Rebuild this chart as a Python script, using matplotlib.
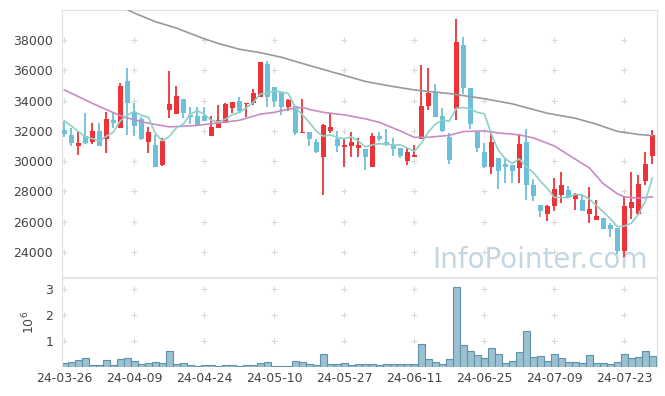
import numpy as np
import pandas as pd
import matplotlib
matplotlib.use('Agg')
import matplotlib.pyplot as plt

# ── data ──────────────────────────────────────────────────────────────────
tick_labels = ['24-03-26', '24-04-09', '24-04-24', '24-05-10', '24-05-27',
               '24-06-11', '24-06-25', '24-07-09', '24-07-23']

opens = [32060, 31730, 31020, 31660, 31250, 31990, 31450, 32720, 32210, 35290,
         33270, 32770, 31290, 31070, 29750, 33380, 33100, 34090, 33050, 32980,
         33000, 31680, 32210, 32540, 33530, 33990, 33760, 33820, 34220, 36420,
         34880, 34590, 33560, 33640, 31840, 31910, 31250, 30260, 32010, 31470,
         30960, 31020, 30850, 30810, 29610, 31660, 31290, 31070, 30890, 30030,
         30270, 31450, 33660, 34590, 32980, 31580, 33430, 37670, 34810, 31950,
         30630, 29610, 30190, 29820, 29750, 29570, 31230, 28430, 27110, 26520,
         27000, 27770, 28100, 27490, 27440, 26520, 26120, 26230, 25790, 25570,
         24060, 26930, 26500, 28710, 30360]
highs = [32650, 32170, 31950, 33160, 32500, 32500, 33270, 33270, 35140, 36130,
         33860, 32940, 32280, 31730, 31510, 35950, 34960, 34090, 33560, 33560,
         33560, 33000, 33710, 33820, 33930, 34260, 33860, 34750, 36530, 36630,
         34880, 34590, 34090, 33640, 34090, 31950, 31450, 32460, 33120, 31990,
         31510, 31910, 31510, 30810, 31880, 31950, 32130, 31510, 30890, 30850,
         31070, 36350, 36130, 35080, 33490, 31880, 39390, 38180, 34810, 31950,
         31180, 32010, 30190, 30130, 29750, 31820, 32110, 28810, 27110, 27110,
         28910, 29310, 28360, 27860, 27840, 28280, 27440, 26230, 25900, 25570,
         27620, 29290, 29090, 30630, 32060]
lows = [31580, 31020, 30390, 31120, 31120, 31020, 30520, 32170, 32210, 31730,
        31680, 31380, 30520, 29610, 29700, 32830, 33100, 32830, 32450, 32320,
        32630, 31680, 32210, 32500, 33200, 33160, 32900, 33710, 34220, 33600,
        33600, 33050, 33310, 31730, 31840, 31020, 30560, 27770, 31840, 30630,
        29610, 30260, 30260, 29440, 29610, 31330, 31020, 30330, 30200, 29750,
        30270, 31450, 33380, 32940, 31950, 29790, 32700, 34420, 32130, 30630,
        29570, 29170, 28150, 28580, 28580, 28580, 27440, 27390, 26300, 26050,
        26710, 27220, 27620, 26780, 26730, 25910, 26120, 25530, 24990, 23890,
        23670, 26200, 26450, 28430, 29820]
closes = [31815, 31220, 31200, 31220, 31990, 31020, 32770, 32540, 34960, 33820,
          32340, 31450, 31930, 29610, 31330, 33780, 34300, 33200, 32920, 32390,
          32670, 32240, 32720, 33780, 33930, 33310, 33860, 34520, 36530, 34220,
          33990, 33560, 34040, 31840, 31910, 31450, 30630, 32390, 32280, 31020,
          31070, 31250, 31070, 30300, 31660, 31470, 31070, 30810, 30340, 30630,
          30410, 33660, 34520, 32940, 31990, 30100, 37850, 34810, 32440, 30890,
          29610, 31230, 29370, 29640, 29350, 31160, 28430, 27660, 26730, 27000,
          28150, 28430, 27620, 27820, 26730, 26830, 26340, 25530, 25530, 24060,
          27060, 27270, 28500, 29820, 31730]
volume = [0.14, 0.18, 0.26, 0.33, 0.08, 0.08, 0.26, 0.08, 0.29, 0.33,
          0.22, 0.10, 0.14, 0.18, 0.14, 0.60, 0.10, 0.14, 0.08, 0.04,
          0.06, 0.06, 0.04, 0.06, 0.06, 0.04, 0.06, 0.06, 0.14, 0.18,
          0.03, 0.03, 0.03, 0.22, 0.18, 0.10, 0.06, 0.49, 0.10, 0.10,
          0.14, 0.06, 0.10, 0.10, 0.10, 0.06, 0.10, 0.10, 0.10, 0.10,
          0.10, 0.87, 0.29, 0.18, 0.10, 0.29, 3.10, 0.83, 0.60, 0.45,
          0.33, 0.72, 0.49, 0.14, 0.22, 0.56, 1.37, 0.37, 0.41, 0.22,
          0.49, 0.33, 0.18, 0.18, 0.14, 0.45, 0.14, 0.14, 0.10, 0.18,
          0.49, 0.33, 0.37, 0.60, 0.41]  # x 10^6

# 5-day MA: first points come from days before the window
ma5_head = [32650, 32320, 31950, 31620]

# 20-day MA, read at selected days
ma20_idx = [0, 2, 5, 8, 10, 12, 15, 18, 20, 25, 28, 30, 32, 34, 35, 37, 40, 43,
            45, 48, 50, 52, 55, 57, 60, 62, 65, 67, 70, 72, 75, 77, 79, 80, 82, 84]
ma20_val = [34700, 34260, 33600, 33000, 32720, 32500, 32260, 32320, 32410, 32690,
            33100, 33220, 33430, 33550, 33410, 33220, 33050, 32790, 32560, 31990,
            31570, 31570, 31700, 31950, 31990, 31860, 31730, 31530, 31000, 30410,
            29550, 28500, 27840, 27640, 27540, 27640]

# long MA (grey), read at selected days
ma_long_idx = [8, 10, 13, 16, 18, 20, 22, 25, 28, 31, 34, 37, 40, 43, 46, 50, 55,
               60, 64, 69, 73, 76, 79, 82, 84]
ma_long_val = [40250, 39780, 39210, 38790, 38430, 38080, 37770, 37390, 37160, 36860,
               36450, 36050, 35660, 35260, 35000, 34700, 34460, 34120, 33780, 33160,
               32830, 32440, 31960, 31760, 31680]

# ── setup ─────────────────────────────────────────────────────────────────
RED  = '#ee3338'
BLUE = '#6cc0d9'
GRID = '#d9d9d9'
SPINE = '#e2e2e2'
TXT = '#444444'

plt.rcParams['font.family'] = ['DejaVu Sans']

x = np.arange(len(closes))
op = np.array(opens); hi = np.array(highs); lo = np.array(lows); cl = np.array(closes)
up = cl >= op

ma5 = pd.Series(cl, dtype=float).rolling(5).mean().values
ma5[:4] = ma5_head

W, H = 665, 396
fig = plt.figure(figsize=(W / 100, H / 100), dpi=100)
ax = fig.add_axes([61.5 / W, (H - 277) / H, 595 / W, 267 / H])
axv = fig.add_axes([61.5 / W, (H - 367) / H, 595 / W, 89 / H], sharex=ax)

xticks = np.arange(0, 81, 10)
yticks = np.arange(24000, 38001, 2000)
vticks = [1, 2, 3]

# ── price panel ───────────────────────────────────────────────────────────
gx, gy = np.meshgrid(xticks, yticks)
ax.plot(gx.ravel(), gy.ravel(), '+', color=GRID, ms=5, mew=0.8, zorder=0)

colors = np.where(up, RED, BLUE)
ax.vlines(x, lo, hi, colors=colors, linewidth=1.3, zorder=2)
body_lo = np.minimum(op, cl)
body_h = np.maximum(np.abs(cl - op), 40)
ax.bar(x, body_h, bottom=body_lo, width=0.7, color=colors, linewidth=0, zorder=3)

ax.plot(ma_long_idx, ma_long_val, color='#999999', lw=1.2, zorder=4)
ax.plot(ma20_idx, ma20_val, color='#c98bc4', lw=1.2, zorder=4)
ax.plot(x, ma5, color='#8fd0c5', lw=1.2, zorder=4)

ax.text(0.985, 0.035, 'InfoPointer.com', transform=ax.transAxes, ha='right',
        va='baseline', fontsize=20, color='#c3d6e2', zorder=1)

ax.set_xlim(-0.4, 84.6)
ax.set_ylim(22340, 39980)
ax.set_yticks(yticks)
ax.set_yticklabels([str(v) for v in yticks])
ax.tick_params(axis='y', length=0, labelsize=9, labelcolor=TXT, pad=6)
ax.tick_params(axis='x', length=0, labelbottom=False)
for s in ax.spines.values():
    s.set_color(SPINE)

# ── volume panel ──────────────────────────────────────────────────────────
gx, gy = np.meshgrid(xticks, vticks)
axv.plot(gx.ravel(), gy.ravel(), '+', color=GRID, ms=5, mew=0.8, zorder=0)
axv.bar(x, volume, width=1.0, color='#9bc1d1', edgecolor='#5e91aa', linewidth=0.8, zorder=2)
axv.set_ylim(0, 3.43)
axv.set_yticks(vticks)
axv.set_xticks(xticks)
axv.set_xticklabels(tick_labels)
axv.tick_params(length=0, labelsize=9, labelcolor=TXT)
axv.tick_params(axis='y', pad=6)
axv.set_ylabel('10$^6$', fontsize=9, color=TXT, labelpad=6)
for s in axv.spines.values():
    s.set_color(SPINE)
axv.spines['bottom'].set_visible(False)

fig.savefig('out.png', dpi=100)
